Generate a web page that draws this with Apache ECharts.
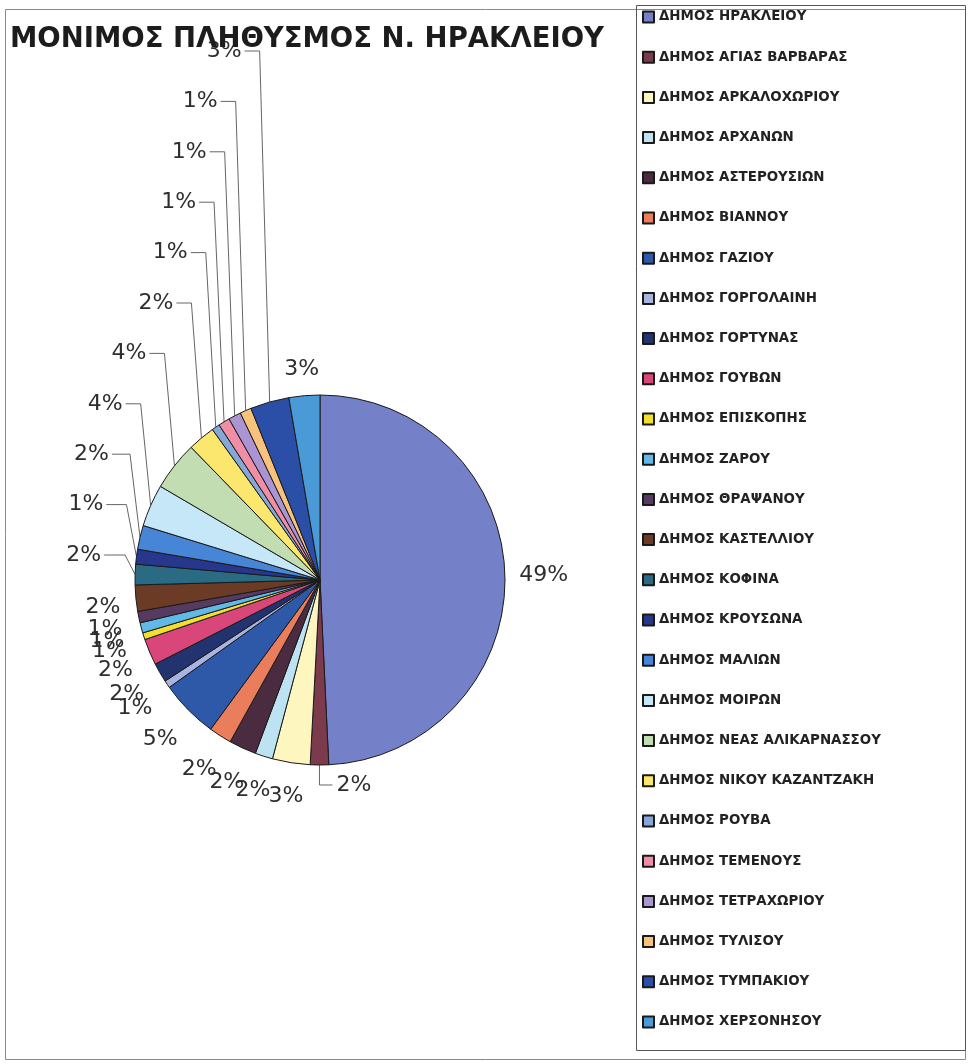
<!DOCTYPE html>
<html><head><meta charset="utf-8">
<script src="https://cdn.jsdelivr.net/npm/echarts@6/dist/echarts.min.js"></script>
<style>html,body{margin:0;padding:0;background:#fff}#c{width:969px;height:1064px}</style>
</head><body><div id="c"></div>
<script>
// ---- data ----
const chartTitle = 'ΜΟΝΙΜΟΣ ΠΛΗΘΥΣΜΟΣ Ν. ΗΡΑΚΛΕΙΟΥ';
const municipalities = [
  'ΔΗΜΟΣ ΗΡΑΚΛΕΙΟΥ', 'ΔΗΜΟΣ ΑΓΙΑΣ ΒΑΡΒΑΡΑΣ', 'ΔΗΜΟΣ ΑΡΚΑΛΟΧΩΡΙΟΥ', 'ΔΗΜΟΣ ΑΡΧΑΝΩΝ',
  'ΔΗΜΟΣ ΑΣΤΕΡΟΥΣΙΩΝ', 'ΔΗΜΟΣ ΒΙΑΝΝΟΥ', 'ΔΗΜΟΣ ΓΑΖΙΟΥ', 'ΔΗΜΟΣ ΓΟΡΓΟΛΑΙΝΗ',
  'ΔΗΜΟΣ ΓΟΡΤΥΝΑΣ', 'ΔΗΜΟΣ ΓΟΥΒΩΝ', 'ΔΗΜΟΣ ΕΠΙΣΚΟΠΗΣ', 'ΔΗΜΟΣ ΖΑΡΟΥ',
  'ΔΗΜΟΣ ΘΡΑΨΑΝΟΥ', 'ΔΗΜΟΣ ΚΑΣΤΕΛΛΙΟΥ', 'ΔΗΜΟΣ ΚΟΦΙΝΑ', 'ΔΗΜΟΣ ΚΡΟΥΣΩΝΑ',
  'ΔΗΜΟΣ ΜΑΛΙΩΝ', 'ΔΗΜΟΣ ΜΟΙΡΩΝ', 'ΔΗΜΟΣ ΝΕΑΣ ΑΛΙΚΑΡΝΑΣΣΟΥ', 'ΔΗΜΟΣ ΝΙΚΟΥ ΚΑΖΑΝΤΖΑΚΗ',
  'ΔΗΜΟΣ ΡΟΥΒΑ', 'ΔΗΜΟΣ ΤΕΜΕΝΟΥΣ', 'ΔΗΜΟΣ ΤΕΤΡΑΧΩΡΙΟΥ', 'ΔΗΜΟΣ ΤΥΛΙΣΟΥ',
  'ΔΗΜΟΣ ΤΥΜΠΑΚΙΟΥ', 'ΔΗΜΟΣ ΧΕΡΣΟΝΗΣΟΥ'
];
// estimated permanent population
const population = [
  144500, 4700, 9650, 4530,
  7020, 5850, 14920, 1900,
  4970, 6730, 1760, 2630,
  2930, 6730, 5270, 3800,
  6140, 10820, 12580, 7020,
  2050, 2930, 3220, 2930,
  9950, 7900
];
const sliceColors = [
  '#7480c8', '#7b3b4c', '#fdf6bf', '#bde3f3',
  '#4b2b40', '#ea7d5c', '#2d59a8', '#a9b3e0',
  '#22336f', '#d9477a', '#f2e02c', '#62b8e6',
  '#563a62', '#6b3b25', '#2a6a82', '#26378c',
  '#4785d6', '#c6e7f8', '#c2ddb2', '#fbe76e',
  '#86a8d8', '#f08ea6', '#aa95d2', '#f7c27c',
  '#2b4fa6', '#4a9ad8'
];

// ---- layout ----
const CX = 320, CY = 580, R = 185;
const total = population.reduce((a, b) => a + b, 0);
const midAngles = [];
(function () { let acc = 0; population.forEach(v => { midAngles.push((acc + v / 2) / total * 2 * Math.PI); acc += v; }); })();
function edgePoint(i) { const a = midAngles[i]; return [CX + R * Math.sin(a), CY - R * Math.cos(a)]; }
const STACK_FIRST = 14, STACK_LAST = 24, STACK_BASE = 555, STACK_STEP = 50.4;

const chart = echarts.init(document.getElementById('c'), null, { renderer: 'canvas' });
chart.setOption({
  backgroundColor: '#ffffff',
  animation: false,
  color: sliceColors,
  title: {
    text: chartTitle, left: 5, top: 21,
    textStyle: { fontFamily: 'DejaVu Sans', fontWeight: 'bold', fontSize: 27.5, color: '#1c1c1c' }
  },
  graphic: [
    { type: 'rect', silent: true, z: -1, shape: { x: 5.5, y: 9.5, width: 960, height: 1050 }, style: { fill: 'none', stroke: '#8a8a8a', lineWidth: 1 } },
    { type: 'rect', silent: true, z: -1, shape: { x: 636.5, y: 5.5, width: 329, height: 1045 }, style: { fill: 'none', stroke: '#555', lineWidth: 1 } }
  ],
  legend: {
    orient: 'vertical', left: 637, top: 5,
    itemWidth: 11, itemHeight: 11, itemGap: 26.2,
    icon: 'rect',
    data: municipalities,
    textStyle: { fontFamily: 'DejaVu Sans', fontWeight: 'bold', fontSize: 13.4, lineHeight: 14, color: '#222' }
  },
  series: [{
    type: 'pie',
    center: [CX, CY],
    radius: R,
    startAngle: 90,
    clockwise: true,
    avoidLabelOverlap: false,
    data: municipalities.map((n, i) => ({ name: n, value: population[i] })),
    itemStyle: { borderColor: '#1a1a1a', borderWidth: 1 },
    label: {
      show: true, position: 'outside',
      formatter: p => Math.round(p.percent) + '%',
      fontFamily: 'DejaVu Sans', fontSize: 22, color: '#2e2e2e'
    },
    labelLine: { show: true, lineStyle: { color: '#666', width: 1 } },
    emphasis: { disabled: true },
    labelLayout: function (params) {
      const i = params.dataIndex;
      const [ex, ey] = edgePoint(i);
      const w = params.labelRect.width, h = params.labelRect.height;
      if (i >= STACK_FIRST && i <= STACK_LAST) {
        const y = STACK_BASE - STACK_STEP * (i - STACK_FIRST);
        const xv = ex - 10;
        const shift = Math.max(0, 135 - xv) * 0.6;
        return { x: xv - 18 - shift, y: y, align: 'right', verticalAlign: 'middle',
          labelLinePoints: [[xv - 15 - shift, y], [xv, y], [ex, ey]] };
      }
      if (i === 1) {
        const y = ey + 20;
        return { x: ex + 17, y: y, align: 'left', verticalAlign: 'middle',
          labelLinePoints: [[ex, ey], [ex, y], [ex + 13, y]] };
      }
      const a = midAngles[i], ux = Math.sin(a), uy = -Math.cos(a);
      const gap = 14 + 8 * Math.abs(Math.sin(2 * a));
      const dy = uy > 0.05 && ux < -0.05 ? 6 : 0;
      return {
        x: CX + ux * (R + gap) + ux * w / 2,
        y: CY + uy * (R + gap) + uy * h / 2 + dy,
        align: 'center', verticalAlign: 'middle',
        labelLinePoints: [[ex, ey], [ex, ey], [ex, ey]]
      };
    }
  }]
});
</script></body></html>
